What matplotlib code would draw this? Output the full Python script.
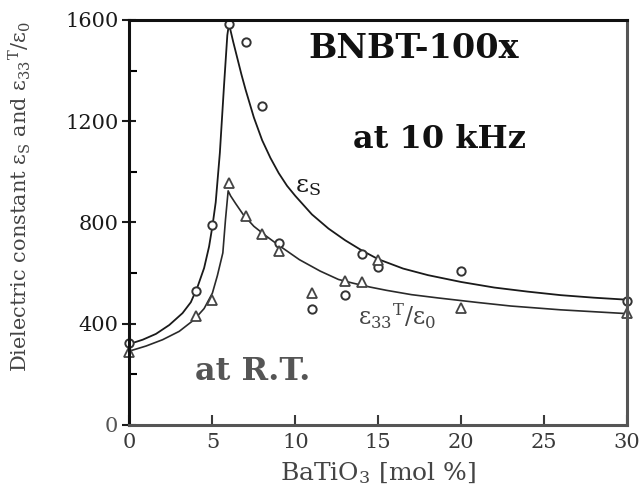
import matplotlib

matplotlib.use("Agg")

import matplotlib.pyplot as plt
from matplotlib.ticker import MultipleLocator

# measured points, BaTiO3 content in mol %
x_mol = [0, 4, 5, 6, 7, 8, 9, 11, 13, 14, 15, 20, 30]
eps_s = [325, 528, 790, 1583, 1515, 1262, 720, 458, 514, 675, 626, 607, 491]
eps_33 = [290, 431, 492, 955, 826, 755, 687, 521, 570, 565, 652, 464, 444]

# hand-drawn guide curves through the data
curve_s_x = [0, 0.8, 1.6, 2.4, 3.2, 3.7, 4.1, 4.5, 4.8, 5.0, 5.2, 5.45, 5.7, 5.9, 6.0,
             6.25, 6.5, 6.75, 7.0, 7.5, 8.0, 8.5, 9.0, 9.5, 10, 11, 12, 13, 14, 15,
             16.5, 18, 20, 22, 24, 26, 28, 30]
curve_s_y = [320, 337, 360, 395, 442, 485, 545, 620, 705, 785, 880, 1075, 1340, 1540, 1585,
             1515, 1450, 1385, 1325, 1215, 1125, 1055, 995, 945, 905, 832, 776, 730, 690, 655,
             618, 592, 565, 543, 527, 513, 503, 495]
curve_33_x = [0, 1, 2, 3, 3.9, 4.5, 5.0, 5.3, 5.63, 5.79, 5.9, 5.95,
              6.1, 6.4, 6.85, 7.5, 8.25, 9.0, 10.25, 11.5, 12.6, 13.5, 14.5, 15.5,
              17, 18.6, 21, 23, 26, 30]
curve_33_y = [292, 312, 337, 370, 416, 460, 521, 590, 680, 812, 890, 925,
              905, 875, 832, 785, 746, 710, 653, 608, 575, 560, 545, 532,
              515, 502, 484, 470, 455, 440]

plt.rcParams["mathtext.fontset"] = "dejavuserif"
serif = "DejaVu Serif"

fig = plt.figure(figsize=(6.4, 5.0), dpi=100)
ax = fig.add_axes([0.2023, 0.15, 0.7774, 0.81])

ax.plot(curve_s_x, curve_s_y, color="#1a1a1a", linewidth=1.3)
ax.plot(curve_33_x, curve_33_y, color="#2a2a2a", linewidth=1.2)
ax.plot(x_mol, eps_s, linestyle="none", marker="o", markersize=6,
        markerfacecolor="white", markeredgecolor="#333333", markeredgewidth=1.4, clip_on=False)
ax.plot(x_mol, eps_33, linestyle="none", marker="^", markersize=6.5,
        markerfacecolor="white", markeredgecolor="#444444", markeredgewidth=1.3, clip_on=False)

ax.set_xlim(0, 30)
ax.set_ylim(0, 1600)
ax.xaxis.set_major_locator(MultipleLocator(5))
ax.yaxis.set_major_locator(MultipleLocator(400))
ax.yaxis.set_minor_locator(MultipleLocator(200))
ax.tick_params(axis="y", which="major", direction="inout", length=10, width=1.5,
               labelsize=15, colors="#1a1a1a", pad=3)
ax.tick_params(axis="y", which="minor", direction="in", length=6, width=1.5)
ax.tick_params(axis="x", which="major", direction="in", length=7, width=1.5,
               labelsize=15, colors="#3a3a3a", pad=6)
for lab in ax.get_xticklabels() + ax.get_yticklabels():
    lab.set_fontfamily(serif)
# lower part of the scan is fainter
for lab in ax.get_yticklabels()[:2]:
    lab.set_color("#555555")

for side, col in [("top", "#111111"), ("left", "#111111"), ("right", "#555555"), ("bottom", "#555555")]:
    ax.spines[side].set_color(col)
    ax.spines[side].set_linewidth(2.2)

ax.set_xlabel(r"BaTiO$_3$ [mol %]", fontsize=18, family=serif, color="#444444", labelpad=6)
ax.set_ylabel(r"Dielectric constant ε$_{\mathrm{S}}$ and ε$_{33}{}^{\mathrm{T}}$/ε$_0$",
              fontsize=15, family=serif, color="#444444")
ax.yaxis.set_label_coords(-0.194, 0.563)

ax.text(0.359, 0.906, "BNBT-100x", transform=ax.transAxes, fontsize=24,
        fontweight="bold", family=serif, color="#111111", va="baseline", ha="left")
ax.text(0.45, 0.684, "at 10 kHz", transform=ax.transAxes, fontsize=23,
        fontweight="bold", family=serif, color="#111111", va="baseline", ha="left")
ax.text(0.132, 0.111, "at R.T.", transform=ax.transAxes, fontsize=23,
        fontweight="bold", family=serif, color="#555555", va="baseline", ha="left")
ax.text(0.333, 0.575, r"ε$_{\mathrm{S}}$", transform=ax.transAxes, fontsize=18,
        family=serif, color="#1a1a1a", va="baseline", ha="left")
ax.text(0.46, 0.247, r"ε$_{33}{}^{\mathrm{T}}$/ε$_0$", transform=ax.transAxes,
        fontsize=17, family=serif, color="#444444", va="baseline", ha="left")

fig.savefig("out.png", dpi=100)
